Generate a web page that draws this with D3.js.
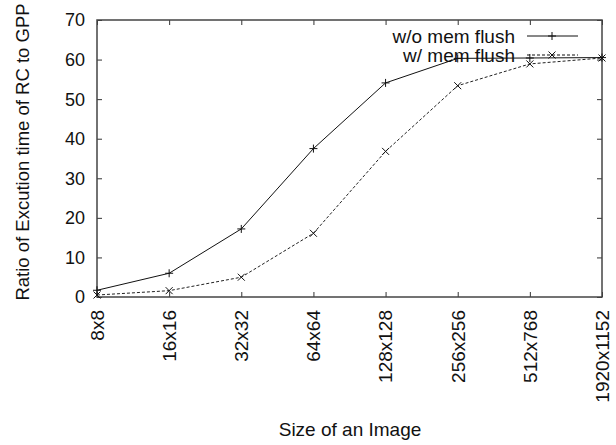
<!DOCTYPE html>
<html>
<head>
<meta charset="utf-8">
<script src="https://cdn.jsdelivr.net/npm/d3@7"></script>
<style>
  body { margin: 0; background: #fff; }
  text { font-family: "Liberation Sans", Arial, sans-serif; fill: #111; }
</style>
</head>
<body>
<div class="chart"></div>
<script>
// data
var sizes = ["8x8", "16x16", "32x32", "64x64", "128x128", "256x256", "512x768", "1920x1152"];
var noFlush = [1.7, 6.0, 17.2, 37.5, 54.1, 60.3, 60.4, 60.5];
var withFlush = [0.5, 1.6, 5.0, 16.1, 36.8, 53.4, 58.9, 60.4];
var yTicks = [0, 10, 20, 30, 40, 50, 60, 70];

var svgWidth = 616;
var svgHeight = 445;

var margin = { top: 20, right: 14, bottom: 148, left: 97 };
var width = svgWidth - margin.left - margin.right;
var height = svgHeight - margin.top - margin.bottom;

var svg = d3.select(".chart")
  .append("svg")
  .attr("width", svgWidth)
  .attr("height", svgHeight);

var chartGroup = svg.append("g")
  .attr("transform", `translate(${margin.left}, ${margin.top})`);

var xScale = d3.scalePoint()
  .domain(sizes)
  .range([0, width]);

var yScale = d3.scaleLinear()
  .domain([0, 70])
  .range([height, 0]);

// inward ticks on all four sides
var bottomAxis = d3.axisBottom(xScale).tickSize(-5).tickFormat("");
var topAxis = d3.axisTop(xScale).tickSize(-5).tickFormat("");
var leftAxis = d3.axisLeft(yScale).tickValues(yTicks).tickSize(-5).tickFormat("");
var rightAxis = d3.axisRight(yScale).tickValues(yTicks).tickSize(-5).tickFormat("");

chartGroup.append("g").attr("transform", `translate(0, ${height})`).call(bottomAxis);
chartGroup.append("g").call(topAxis);
chartGroup.append("g").call(leftAxis);
chartGroup.append("g").attr("transform", `translate(${width}, 0)`).call(rightAxis);
chartGroup.selectAll(".domain").remove();
chartGroup.selectAll(".tick line").attr("stroke", "#333");

// frame
chartGroup.append("rect")
  .attr("width", width)
  .attr("height", height)
  .attr("fill", "none")
  .attr("stroke", "#444")
  .attr("stroke-width", 1.5);

// y tick labels
chartGroup.selectAll(".ylab")
  .data(yTicks)
  .enter()
  .append("text")
  .attr("x", -12)
  .attr("y", d => yScale(d))
  .attr("dy", "0.36em")
  .style("text-anchor", "end")
  .style("font-size", "18px")
  .text(d => d);

// x tick labels, rotated
chartGroup.selectAll(".xlab")
  .data(sizes)
  .enter()
  .append("text")
  .attr("transform", d => `translate(${xScale(d)}, ${height + 13}) rotate(-90)`)
  .attr("dy", "0.36em")
  .style("text-anchor", "end")
  .style("font-size", "19px")
  .text(d => d);

// Lines
var line = d3.line()
  .x((d, i) => xScale(sizes[i]))
  .y(d => yScale(d));

chartGroup.append("path")
  .datum(withFlush)
  .attr("d", line)
  .attr("fill", "none")
  .attr("stroke", "#222")
  .attr("stroke-width", 1)
  .attr("stroke-dasharray", "3,2");

chartGroup.append("path")
  .datum(noFlush)
  .attr("d", line)
  .attr("fill", "none")
  .attr("stroke", "#111")
  .attr("stroke-width", 1);

// markers
var plusPath = "M-4,0H4M0,-4V4";
var crossPath = "M-3.5,-3.5L3.5,3.5M-3.5,3.5L3.5,-3.5";

chartGroup.selectAll(".plus")
  .data(noFlush)
  .enter()
  .append("path")
  .attr("transform", (d, i) => `translate(${xScale(sizes[i])}, ${yScale(d)})`)
  .attr("d", plusPath)
  .attr("stroke", "#111");

chartGroup.selectAll(".cross")
  .data(withFlush)
  .enter()
  .append("path")
  .attr("transform", (d, i) => `translate(${xScale(sizes[i])}, ${yScale(d)})`)
  .attr("d", crossPath)
  .attr("stroke", "#111");

// Legend
var legend = [
  { label: "w/o mem flush", dash: null, mark: plusPath, y: 36 },
  { label: "w/ mem flush", dash: "3,2", mark: crossPath, y: 55 }
];

legend.forEach(l => {
  svg.append("text")
    .attr("x", 515)
    .attr("y", l.y)
    .attr("dy", "0.36em")
    .style("text-anchor", "end")
    .style("font-size", "19px")
    .text(l.label);
  svg.append("line")
    .attr("x1", 527).attr("x2", 578)
    .attr("y1", l.y).attr("y2", l.y)
    .attr("stroke", "#111")
    .attr("stroke-dasharray", l.dash);
  svg.append("path")
    .attr("transform", `translate(552, ${l.y})`)
    .attr("d", l.mark)
    .attr("stroke", "#111");
});

// Axis Labels
svg.append("text")
  .attr("transform", `translate(29, 152) rotate(-90)`)
  .style("text-anchor", "middle")
  .style("font-size", "18.5px")
  .text("Ratio of Excution time of RC to GPP");

svg.append("text")
  .attr("x", 350)
  .attr("y", 436)
  .style("text-anchor", "middle")
  .style("font-size", "19px")
  .text("Size of an Image");
</script>
</body>
</html>
